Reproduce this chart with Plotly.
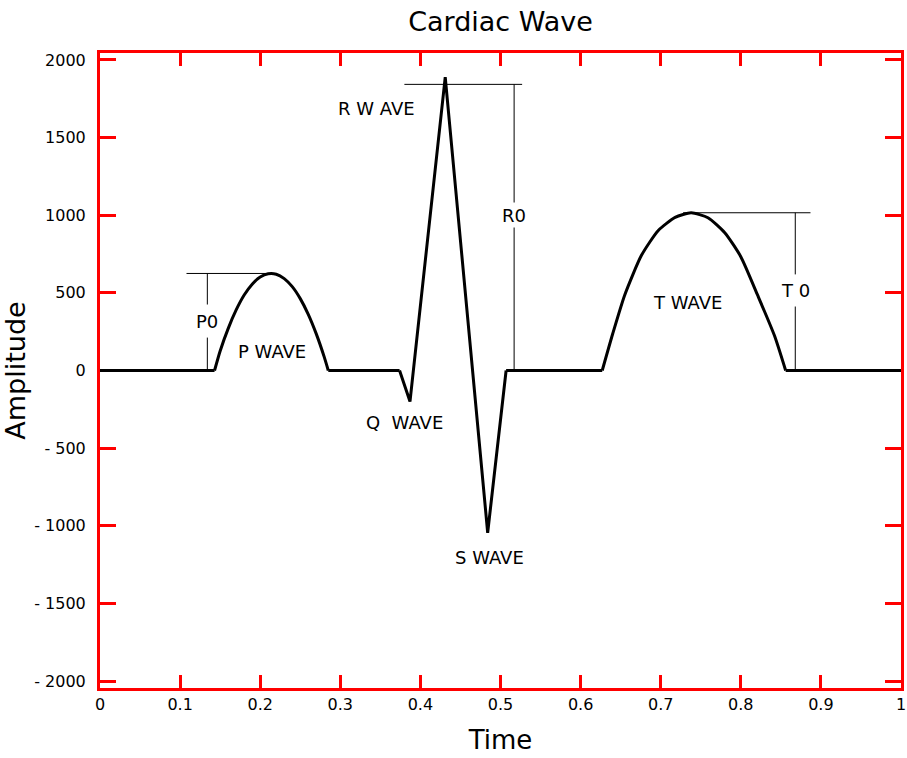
import plotly.graph_objects as go

# ECG pieces (time, amplitude)
p_time = [0.143, 0.150, 0.160, 0.170, 0.180, 0.190, 0.200, 0.210, 0.220,
          0.230, 0.240, 0.250, 0.260, 0.270, 0.280, 0.285]
p_amp = [0, 126, 270, 390, 486, 556, 602, 623, 620,
         592, 540, 463, 362, 236, 86, 0]
qrs_time = [0.374, 0.387, 0.431, 0.484, 0.507]
qrs_amp = [0, -200, 1890, -1045, 0]
t_time = [0.627, 0.640, 0.655, 0.676, 0.697, 0.718, 0.738, 0.759, 0.780,
          0.800, 0.821, 0.842, 0.856]
t_amp = [0, 235, 485, 742, 902, 986, 1016, 984, 887,
         733, 485, 225, 0]

# measurement markers P0 / R0 / T0
ref_names = ["P0", "R0", "T 0"]
ref_level = [625, 1843, 1016]
ref_left = [0.108, 0.380, 0.728]
ref_right = [0.217, 0.527, 0.887]
ref_stem = [0.134, 0.517, 0.868]
ref_gap_top = [425, 1082, 619]
ref_gap_bottom = [212, 921, 412]

# wave labels
wave_names = ["P WAVE", "Q  WAVE", "R W AVE", "S WAVE", "T WAVE"]
wave_x = [0.215, 0.380, 0.345, 0.486, 0.733]
wave_y = [122, -335, 1688, -1205, 438]

x_ticks = [0, 0.1, 0.2, 0.3, 0.4, 0.5, 0.6, 0.7, 0.8, 0.9, 1.0]
x_labels = ["0", "0.1", "0.2", "0.3", "0.4", "0.5", "0.6", "0.7", "0.8", "0.9", "1"]
y_ticks = [2000, 1500, 1000, 500, 0, -500, -1000, -1500, -2000]
y_labels = ["2000", "1500", "1000", "500", "0", "- 500", "- 1000", "- 1500", "- 2000"]

FONT = "DejaVu Sans"

fig = go.Figure()

# marker lines (thin)
lx, ly = [], []
for i in range(len(ref_names)):
    lx += [ref_left[i], ref_right[i], None]
    ly += [ref_level[i], ref_level[i], None]
    lx += [ref_stem[i], ref_stem[i], None, ref_stem[i], ref_stem[i], None]
    ly += [ref_level[i], ref_gap_top[i], None, ref_gap_bottom[i], 0, None]
fig.add_trace(go.Scatter(x=lx, y=ly, mode="lines", line=dict(color="black", width=1),
                         showlegend=False, hoverinfo="skip"))

# flat parts between the waves
bx = [0, p_time[0], None, p_time[-1], qrs_time[0], None,
      qrs_time[-1], t_time[0], None, t_time[-1], 1]
by = [0 if v is not None else None for v in bx]
fig.add_trace(go.Scatter(x=bx, y=by, mode="lines", line=dict(color="black", width=3),
                         showlegend=False))
fig.add_trace(go.Scatter(x=p_time, y=p_amp, mode="lines",
                         line=dict(color="black", width=3, shape="spline", smoothing=0.6),
                         showlegend=False))
fig.add_trace(go.Scatter(x=qrs_time, y=qrs_amp, mode="lines",
                         line=dict(color="black", width=3), showlegend=False))
fig.add_trace(go.Scatter(x=t_time, y=t_amp, mode="lines",
                         line=dict(color="black", width=3, shape="spline", smoothing=0.6),
                         showlegend=False))

for i in range(len(ref_names)):
    fig.add_annotation(x=ref_stem[i], y=(ref_gap_top[i] + ref_gap_bottom[i]) / 2,
                       text=ref_names[i], showarrow=False,
                       font=dict(family=FONT, size=18, color="black"))
for i in range(len(wave_names)):
    fig.add_annotation(x=wave_x[i], y=wave_y[i], text=wave_names[i], showarrow=False,
                       font=dict(family=FONT, size=18, color="black"))

fig.update_layout(
    width=907, height=758,
    margin=dict(l=100, r=1, t=53, b=70),
    paper_bgcolor="white", plot_bgcolor="white",
    font=dict(family=FONT, color="black"),
    title=dict(text="Cardiac Wave", x=0.5, xref="paper", xanchor="center",
               y=1 - 22 / 758, yref="container", yanchor="middle",
               font=dict(family=FONT, size=27, color="black")),
)

fig.update_xaxes(
    range=[0, 1], tickvals=x_ticks, ticktext=x_labels,
    showline=True, linecolor="red", linewidth=3, mirror="ticks",
    ticks="inside", ticklen=13, tickwidth=3, tickcolor="red",
    showgrid=False, zeroline=False, layer="below traces",
    ticklabeloverflow="allow",
    tickfont=dict(family=FONT, size=16, color="black"),
    title=dict(text="Time", standoff=18, font=dict(family=FONT, size=26, color="black")),
)
fig.update_yaxes(
    range=[-2045, 2045], tickvals=y_ticks, ticktext=y_labels,
    showline=True, linecolor="red", linewidth=3, mirror="ticks",
    ticks="inside", ticklen=16, tickwidth=3, tickcolor="red",
    showgrid=False, zeroline=False, ticklabelstandoff=8, layer="below traces",
    tickfont=dict(family=FONT, size=16, color="black"),
    title=dict(text="Amplitude", standoff=2, font=dict(family=FONT, size=27, color="black")),
)

fig.write_html("out.html", config={"displayModeBar": False},
               post_script="document.body.style.margin='0';")
